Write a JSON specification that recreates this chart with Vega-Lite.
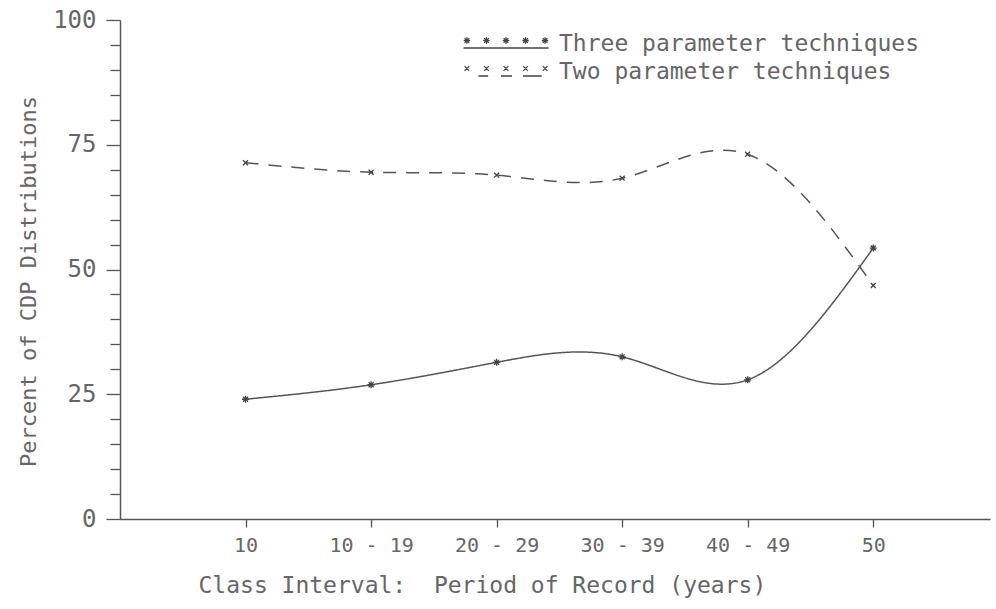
{
  "$schema": "https://vega.github.io/schema/vega-lite/v6.json",
  "width": 870,
  "height": 499,
  "autosize": "none",
  "padding": {"left": 120, "top": 20, "right": 6, "bottom": 90},
  "background": "white",
  "config": {
    "view": {"stroke": null},
    "font": "DejaVu Sans Mono"
  },
  "data": {
    "values": [
      {"series": "Three parameter techniques", "idx": 1, "pct": 24.0},
      {"series": "Three parameter techniques", "idx": 2, "pct": 26.9},
      {"series": "Three parameter techniques", "idx": 3, "pct": 31.4},
      {"series": "Three parameter techniques", "idx": 4, "pct": 32.5},
      {"series": "Three parameter techniques", "idx": 5, "pct": 27.9},
      {"series": "Three parameter techniques", "idx": 6, "pct": 54.3},
      {"series": "Two parameter techniques", "idx": 1, "pct": 71.4},
      {"series": "Two parameter techniques", "idx": 2, "pct": 69.5},
      {"series": "Two parameter techniques", "idx": 3, "pct": 68.9},
      {"series": "Two parameter techniques", "idx": 4, "pct": 68.3},
      {"series": "Two parameter techniques", "idx": 5, "pct": 73.1},
      {"series": "Two parameter techniques", "idx": 6, "pct": 46.8}
    ]
  },
  "layer": [
    {
      "mark": {"type": "line", "interpolate": "natural", "color": "#555", "strokeWidth": 1.5},
      "encoding": {
        "x": {
          "field": "idx", "type": "quantitative",
          "scale": {"domain": [0, 6.93], "nice": false, "zero": false},
          "axis": {
            "values": [1, 2, 3, 4, 5, 6],
            "labelExpr": "['','10','10 - 19','20 - 29','30 - 39','40 - 49','50'][datum.value]",
            "grid": false,
            "tickSize": 8,
            "tickWidth": 1.3,
            "tickColor": "#555",
            "domainColor": "#555",
            "domainWidth": 1.5,
            "labelFontSize": 20,
            "labelColor": "#666",
            "labelPadding": 8,
            "labelFlush": false,
            "labelOverlap": false,
            "title": "Class Interval:\u00a0 Period of Record (years)",
            "titleFontSize": 23,
            "titleFontWeight": "normal",
            "titleColor": "#666",
            "titleX": 78,
            "titleY": 66,
            "titleAlign": "left",
            "titleBaseline": "middle"
          }
        },
        "y": {
          "field": "pct", "type": "quantitative",
          "scale": {"domain": [0, 100], "nice": false},
          "axis": {
            "values": [0, 25, 50, 75, 100],
            "tickSize": 14,
            "grid": false,
            "tickWidth": 1.3,
            "tickColor": "#555",
            "domainColor": "#555",
            "domainWidth": 1.5,
            "labelFontSize": 24,
            "labelColor": "#666",
            "labelPadding": 10,
            "labelFlush": false,
            "labelOverlap": false,
            "title": "Percent of CDP Distributions",
            "titleFontSize": 22,
            "titleFontWeight": "normal",
            "titleColor": "#666",
            "titleX": -92,
            "titleY": 261,
            "titleAlign": "center",
            "titleBaseline": "middle",
            "titleAngle": 270
          }
        },
        "strokeDash": {
          "field": "series", "type": "nominal",
          "scale": {"domain": ["Three parameter techniques", "Two parameter techniques"], "range": [[1, 0], [13, 10]]},
          "legend": null
        }
      }
    },
    {
      "mark": {"type": "point", "filled": false, "size": 50, "strokeWidth": 1.3, "color": "#444", "opacity": 1},
      "encoding": {
        "x": {"field": "idx", "type": "quantitative"},
        "y": {
          "field": "pct", "type": "quantitative",
          "axis": {
            "orient": "left",
            "values": [5, 10, 15, 20, 30, 35, 40, 45, 55, 60, 65, 70, 80, 85, 90, 95],
            "tickSize": 10,
            "tickWidth": 1.3,
            "tickColor": "#555",
            "labels": false,
            "domain": false,
            "grid": false,
            "title": null
          }
        },
        "shape": {
          "field": "series", "type": "nominal",
          "scale": {
            "domain": ["Three parameter techniques", "Two parameter techniques"],
            "range": [
              "M-1,0L1,0M0,-1L0,1M-0.7,-0.7L0.7,0.7M-0.7,0.7L0.7,-0.7",
              "M-0.7,-0.7L0.7,0.7M-0.7,0.7L0.7,-0.7"
            ]
          },
          "legend": null
        }
      }
    },
    {
      "transform": [{"filter": "false"}],
      "mark": {"type": "point", "filled": false, "size": 400, "strokeWidth": 1.3, "color": "#444", "opacity": 1},
      "encoding": {
        "x": {"field": "idx", "type": "quantitative"},
        "y": {"field": "pct", "type": "quantitative", "axis": null},
        "shape": {
          "field": "series", "type": "nominal",
          "scale": {
            "domain": ["Three parameter techniques", "Two parameter techniques"],
            "range": [
              "M-4.23,-0.3L-3.59,-0.3M-3.91,-0.62L-3.91,0.02M-4.144,-0.534L-3.676,-0.066M-4.144,-0.066L-3.676,-0.534M-2.275,-0.3L-1.635,-0.3M-1.955,-0.62L-1.955,0.02M-2.189,-0.534L-1.721,-0.066M-2.189,-0.066L-1.721,-0.534M-0.32,-0.3L0.32,-0.3M0,-0.62L0,0.02M-0.234,-0.534L0.234,-0.066M-0.234,-0.066L0.234,-0.534M1.635,-0.3L2.275,-0.3M1.955,-0.62L1.955,0.02M1.721,-0.534L2.189,-0.066M1.721,-0.066L2.189,-0.534M3.59,-0.3L4.23,-0.3M3.91,-0.62L3.91,0.02M3.676,-0.534L4.144,-0.066M3.676,-0.066L4.144,-0.534M-4.25,0.45L4.25,0.45",
              "M-4.144,-0.534L-3.676,-0.066M-4.144,-0.066L-3.676,-0.534M-2.189,-0.534L-1.721,-0.066M-2.189,-0.066L-1.721,-0.534M-0.234,-0.534L0.234,-0.066M-0.234,-0.066L0.234,-0.534M1.721,-0.534L2.189,-0.066M1.721,-0.066L2.189,-0.534M3.676,-0.534L4.144,-0.066M3.676,-0.066L4.144,-0.534M-2.76,0.45L-1.785,0.45M-0.51,0.45L0.595,0.45M1.7,0.45L3.57,0.45"
            ]
          },
          "legend": {
            "orient": "none",
            "legendX": 374.5,
            "legendY": 12,
            "title": null,
            "padding": 0,
            "labelFontSize": 23,
            "labelColor": "#666",
            "labelOffset": 41.5,
            "labelLimit": 1000,
            "symbolSize": 400,
            "symbolStrokeColor": "#444",
            "symbolStrokeWidth": 1.3,
            "symbolFillColor": "transparent",
            "rowPadding": 4
          }
        }
      }
    }
  ],
  "resolve": {
    "scale": {"shape": "independent"},
    "legend": {"shape": "independent"},
    "axis": {"y": "independent"}
  }
}
